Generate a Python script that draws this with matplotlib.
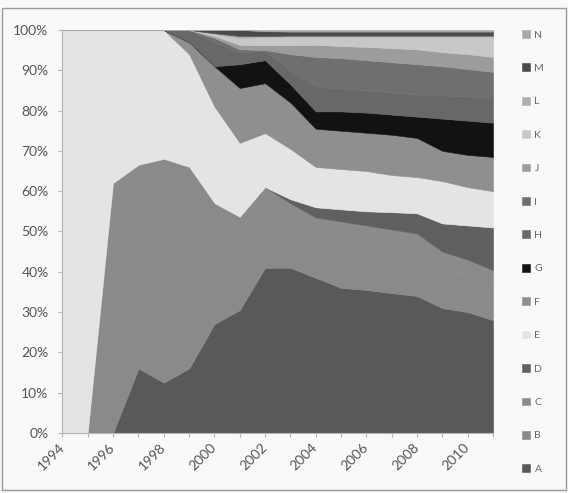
import numpy as np
import matplotlib
matplotlib.use("Agg")
import matplotlib.pyplot as plt
from matplotlib.patches import Rectangle

plt.rcParams['font.family'] = ['Lato', 'DejaVu Sans']

years = list(range(1994, 2012))

# share of each series per year (%)
A = [0, 0, 0, 16, 12.5, 16, 27, 30.5, 41, 41, 38.5, 36, 35.5, 34.7, 34, 31, 30, 28]
B = [0, 0, 62, 50.5, 55.5, 50, 30, 23.1, 18, 13.5, 12, 13.5, 12.5, 12.3, 11.5, 10, 9, 8.4]
C = [0, 0, 0, 0, 0, 0, 0, 0, 2, 2.5, 3, 3, 3.5, 3.5, 4, 4, 4, 4]
D = [0, 0, 0, 0, 0, 0, 0, 0, 0, 1, 2.5, 3, 3.5, 4.3, 5, 7, 8.5, 10.6]
E = [100, 100, 38, 33.5, 32, 28, 24, 18.4, 13.4, 12.5, 10, 10, 10, 9.2, 9, 10.5, 9.5, 9]
F = [0, 0, 0, 0, 0, 3, 10, 13.6, 12.4, 11.5, 9.5, 9.5, 9.5, 10, 9.7, 7.5, 8, 8.5]
G = [0, 0, 0, 0, 0, 0, 0, 5.9, 5.7, 4.5, 4.3, 4.8, 5, 5, 5.3, 8, 8.5, 8.5]
H = [0, 0, 0, 0, 0, 3, 6, 3, 2.3, 3.5, 6.2, 5.7, 5.5, 5.5, 5.5, 5.8, 6, 6]
I = [0, 0, 0, 0, 0, 0, 1, 0.7, 0.2, 4, 7.3, 7.5, 7.5, 7.5, 7.5, 7.2, 6.8, 6.6]
J = [0, 0, 0, 0, 0, 0, 0.5, 1.1, 1.2, 2.2, 3, 3, 3.3, 3.5, 3.7, 3.5, 3.7, 3.7]
K = [0, 0, 0, 0, 0, 0, 0.5, 1.7, 2.1, 2.1, 2, 2.3, 2.5, 2.8, 3.1, 3.8, 4.3, 5]
L = [0, 0, 0, 0, 0, 0, 0.2, 0.5, 0.2, 0.3, 0.3, 0.3, 0.3, 0.3, 0.3, 0.3, 0.3, 0.3]
M = [0, 0, 0, 0, 0, 0, 0.8, 1.5, 1.2, 1, 1, 1, 1, 1, 1, 1, 1, 1]
N = [0, 0, 0, 0, 0, 0, 0, 0, 0.3, 0.4, 0.4, 0.4, 0.4, 0.4, 0.4, 0.4, 0.4, 0.4]

names = list("ABCDEFGHIJKLMN")
series = [A, B, C, D, E, F, G, H, I, J, K, L, M, N]
colors = ['#595959', '#8a8a8a', '#8b8b8b', '#606060', '#e4e4e4', '#8f8f8f', '#121212',
          '#686868', '#6f6f6f', '#9c9c9c', '#c8c8c8', '#b0b0b0', '#4a4a4a', '#a8a8a8']

vals = np.array(series, dtype=float)
vals = vals / vals.sum(axis=0) * 100

fig = plt.figure(figsize=(5.68, 4.93), dpi=100, facecolor='#f9f9f9')
ax = fig.add_axes([0.110, 0.1217, 0.758, 0.8175])
ax.set_facecolor('#f9f9f9')

polys = ax.stackplot(years, vals, labels=names, colors=colors)
for p in polys:
    # thin edge in the fill colour hides the antialiasing seams between layers
    p.set_edgecolor(p.get_facecolor())
    p.set_linewidth(0.4)

ax.set_xlim(years[0], years[-1])
ax.set_ylim(0, 100)
ax.set_yticks(range(0, 101, 10))
ax.set_yticklabels([f"{v}%" for v in range(0, 101, 10)])
ax.set_xticks(years)
ax.set_xticklabels([str(y) if y % 2 == 0 else '' for y in years],
                   rotation=45, ha='right', va='center', rotation_mode='anchor')

for s in ['top', 'right']:
    ax.spines[s].set_visible(False)
for s in ['left', 'bottom']:
    ax.spines[s].set_color('#b5b5b5')
    ax.spines[s].set_linewidth(0.8)
    ax.spines[s].set_zorder(5)

ax.tick_params(axis='y', length=3, width=0.8, color='#b5b5b5', pad=7,
               labelsize=10, labelcolor='#555555')
ax.tick_params(axis='x', length=3, width=0.8, color='#b5b5b5', pad=6,
               labelsize=10, labelcolor='#555555')

fig.legend(polys[::-1], names[::-1], loc='center left', bbox_to_anchor=(0.919, 0.489),
           frameon=False, fontsize=7.5, handlelength=0.75, handleheight=0.75,
           handletextpad=0.45, labelspacing=2.3, borderpad=0, borderaxespad=0,
           labelcolor='#666666')

fig.patches.append(Rectangle((0.004, 0.006), 0.992, 0.977, transform=fig.transFigure,
                             fill=False, edgecolor='#9a9a9a', linewidth=1))

fig.savefig('out.png', dpi=100, facecolor=fig.get_facecolor())
